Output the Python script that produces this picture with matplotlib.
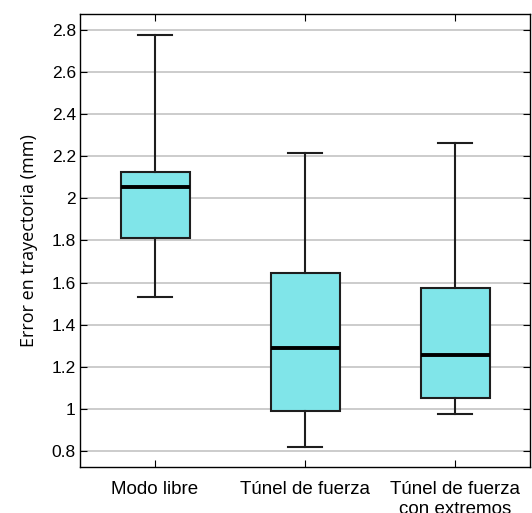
import matplotlib
matplotlib.use('Agg')
import matplotlib.pyplot as plt

# Box statistics
labels = ['Modo libre', 'Túnel de fuerza', 'Túnel de fuerza\ncon extremos']
whislo = [1.532, 0.820, 0.976]
q1 = [1.813, 0.989, 1.052]
med = [2.054, 1.291, 1.257]
q3 = [2.125, 1.646, 1.573]
whishi = [2.778, 2.218, 2.265]
yticks = [0.8, 1.0, 1.2, 1.4, 1.6, 1.8, 2.0, 2.2, 2.4, 2.6, 2.8]
ytick_labels = ['0.8', '1', '1.2', '1.4', '1.6', '1.8', '2', '2.2', '2.4', '2.6', '2.8']

stats = []
for i in range(len(labels)):
    stats.append({'label': labels[i], 'whislo': whislo[i], 'q1': q1[i], 'med': med[i],
                  'q3': q3[i], 'whishi': whishi[i], 'fliers': []})

fig = plt.figure(figsize=(5.32, 5.13), dpi=100)
ax = fig.add_axes([0.1504, 0.0897, 0.846, 0.883])

ax.bxp(stats, positions=[1, 2, 3], widths=0.46, patch_artist=True, showfliers=False,
       boxprops=dict(facecolor='#80e5e9', edgecolor='#1e1e1e', linewidth=1.5),
       medianprops=dict(color='black', linewidth=2.8),
       whiskerprops=dict(color='#1e1e1e', linewidth=1.5),
       capprops=dict(color='#1e1e1e', linewidth=1.5),
       capwidths=0.23)

ax.set_xlim(0.5, 3.5)
ax.set_ylim(0.724, 2.876)
ax.set_yticks(yticks)
ax.set_yticklabels(ytick_labels, fontfamily='Liberation Sans', fontsize=12.5)
ax.set_xticks([1, 2, 3])
ax.set_xticklabels(labels, fontfamily='Liberation Sans', fontsize=13.5, linespacing=1.25)
ax.tick_params(direction='in', length=5, width=0.8, top=True, right=True, colors='black')
ax.tick_params(axis='y', pad=3)
ax.tick_params(axis='x', pad=10)
ax.yaxis.grid(True, color='#c4c4c4', linewidth=1.2)
ax.set_axisbelow(True)
for s in ax.spines.values():
    s.set_linewidth(1.0)
    s.set_color('black')

ax.set_ylabel('Error en trayectoria (mm)', fontfamily='Open Sans', fontsize=13, labelpad=10)

fig.savefig('out.png', dpi=100)
